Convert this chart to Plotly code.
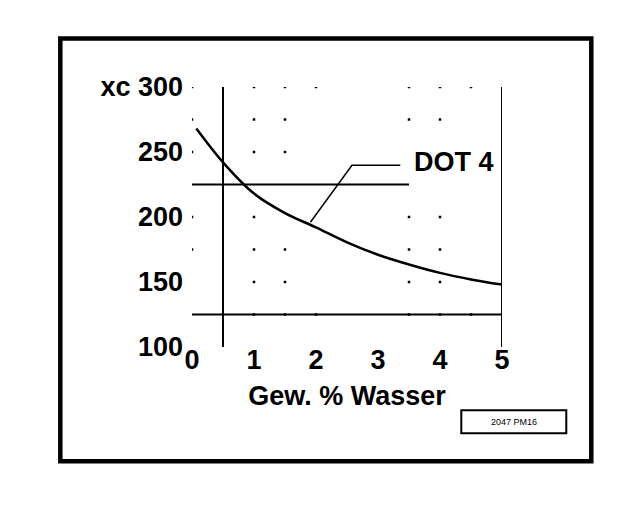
import plotly.graph_objects as go

# ---- data ----
water_pct = [0.07, 0.5, 1.0, 1.5, 2.0, 2.5, 3.0, 3.5, 4.0, 4.5, 5.0]
xc_values = [268, 242, 218, 203, 192, 180.5, 171, 163.5, 157, 152, 148]

x_ticks = [0, 1, 2, 3, 4, 5]
x_ticktext = ["0", "1", "2", "3", "4", "5"]
y_ticks = [100, 150, 200, 250, 300]
y_ticktext = ["100", "150", "200", "250", "xc 300"]

# sparse dot grid as seen in the picture
dot_x = [0, 1, 1.5, 2, 3.5, 4, 4.5,
         0, 1, 1.5, 3.5, 4,
         0, 1, 1.5,
         0, 1, 3.5, 4,
         0, 1, 1.5, 3.5, 4,
         1, 1.5, 3.5, 4,
         1, 1.5, 2, 3.5, 4, 4.5]
dot_y = [300] * 7 + [275] * 5 + [250] * 3 + [200] * 4 + [175] * 5 + [150] * 4 + [125] * 6

# reference lines
ref_vx = [0.5, 5.0]          # vertical lines
ref_v_y = [100, 300]
ref_h1_y = 125               # horizontal base line
ref_h1_x = [0, 5]
ref_h2_y = 225               # horizontal limit line
ref_h2_x = [0, 3.5]

# DOT 4 leader
leader_x = [3.36, 2.58, 1.91]
leader_y = [239.8, 239.8, 196.0]
label_text = "DOT 4"
label_pos = (4.22, 242.5)

FONT = "Liberation Sans, Arial, Helvetica, sans-serif"

fig = go.Figure()

# grid dots
fig.add_trace(go.Scatter(x=dot_x, y=dot_y, mode="markers",
                         marker=dict(symbol="square", size=2.5, color="black"),
                         hoverinfo="skip", showlegend=False))

# reference lines
for vx in ref_vx:
    fig.add_trace(go.Scatter(x=[vx, vx], y=ref_v_y, mode="lines",
                             line=dict(color="black", width=2), showlegend=False))
fig.add_trace(go.Scatter(x=ref_h1_x, y=[ref_h1_y] * 2, mode="lines",
                         line=dict(color="black", width=2), showlegend=False))
fig.add_trace(go.Scatter(x=ref_h2_x, y=[ref_h2_y] * 2, mode="lines",
                         line=dict(color="black", width=2), showlegend=False))

# curve
fig.add_trace(go.Scatter(x=water_pct, y=xc_values, mode="lines",
                         line=dict(color="black", width=2.5, shape="spline"),
                         showlegend=False))

# leader line
fig.add_trace(go.Scatter(x=leader_x, y=leader_y, mode="lines",
                         line=dict(color="black", width=1.5), showlegend=False))

fig.add_annotation(x=label_pos[0], y=label_pos[1], text=label_text, showarrow=False,
                   xanchor="center", yanchor="middle",
                   font=dict(family=FONT, size=27, color="black", weight="bold"))

# outer frame and small stamp box (paper coords)
fig.add_shape(type="rect", xref="paper", yref="paper",
              x0=-0.4248, x1=1.288, y0=-0.4396, y1=1.187,
              line=dict(color="black", width=4.5))
fig.add_shape(type="rect", xref="paper", yref="paper",
              x0=0.8687, x1=1.2074, y0=-0.3319, y1=-0.2435,
              line=dict(color="black", width=2))
fig.add_annotation(xref="paper", yref="paper", x=1.038, y=-0.2877,
                   text="2047 PM16", showarrow=False, xanchor="center", yanchor="middle",
                   font=dict(family=FONT, size=9, color="black", weight="normal"))

fig.update_layout(
    width=640, height=508,
    margin=dict(l=184, r=146, t=79, b=169),
    paper_bgcolor="white", plot_bgcolor="white",
    font=dict(family=FONT, size=27, color="black", weight="bold"),
    xaxis=dict(range=[0, 5], tickvals=x_ticks, ticktext=x_ticktext,
               showgrid=False, zeroline=False, showline=False, ticks="",
               ticklabelstandoff=-6,
               title=dict(text="Gew. % Wasser", standoff=12,
                          font=dict(family=FONT, size=27, weight="bold"))),
    yaxis=dict(range=[100, 300], tickvals=y_ticks, ticktext=y_ticktext,
               showgrid=False, zeroline=False, showline=False, ticks="",
               ticklabelstandoff=8),
)

fig.write_html("out.html")
